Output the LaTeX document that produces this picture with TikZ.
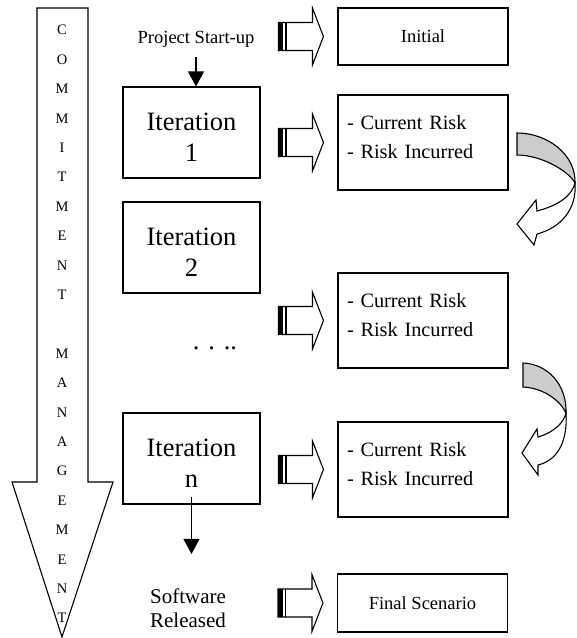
\documentclass[tikz,border=0pt]{standalone}
\usepackage{fontspec}
\setmainfont{Liberation Serif}
\usetikzlibrary{arrows.meta}

\definecolor{bandgray}{gray}{0.8}

\tikzset{
  iterbox/.style={draw, text width=125pt, inner xsep=6pt, inner ysep=0pt, text height=43pt, text depth=48pt,
    align=center, font=\fontsize{26.5}{31}\selectfont},
  riskbox/.style={draw, text width=152pt, inner xsep=9pt, inner ysep=0pt, text height=34pt,
    text depth=61pt, align=left, font=\fontsize{20.3}{29}\selectfont},
  endbox/.style={draw, minimum width=170pt, font=\fontsize{18.5}{22}\selectfont},
  flow/.style={-{Triangle[length=15pt,width=16pt]}},
}

% striped block arrow pointing at the west side of a node
\newcommand{\stripedarrow}[1]{%
  \begin{scope}[shift={(#1.west)}]
    \fill (-59,-14) rectangle (-54,14);
    \draw (-51.5,-14) -- (-51.5,14);
    \draw (-59,-14) -- (-25,-14) -- (-25,-28.5) -- (-14,0) -- (-25,28.5) -- (-25,14) -- (-59,14) -- cycle;
  \end{scope}}

\begin{document}
\begin{tikzpicture}[x=1pt, y=-1pt, line width=1.1pt]
    \useasboundingbox (0,0) rectangle (577,638);

    % commitment management
    \draw (37,8) -- (88,8) -- (88,482) -- (113,482) -- (62,637) -- (12,482) -- (37,482) -- cycle;
    \node[align=center, inner sep=0pt, font=\fontsize{14.5}{29.4}\selectfont] (commit) at (62,324)
        {C\\O\\M\\M\\I\\T\\M\\E\\N\\T\\[29.4pt]M\\A\\N\\A\\G\\E\\M\\E\\N\\T};

    % iterations
    \node[anchor=base, inner sep=0pt, font=\fontsize{18.5}{22}\selectfont] (start) at (196,43) {Project Start-up};
    \node[iterbox] (it1) at (191.5,132.5) {Iteration\\1};
    \node[iterbox] (it2) at (191.5,247.5) {Iteration\\2};
    \node[anchor=base, inner sep=0pt, font=\fontsize{26.5}{31}\selectfont] (dots) at (215,349) {. . ..};
    \node[iterbox] (itn) at (191.5,458.5) {Iteration\\n};
    \node[align=center, inner sep=0pt, font=\fontsize{21}{24}\selectfont] (released) at (188,608) {Software\\Released};

    \draw[flow, shorten <=10pt] (start.south) -- (start.south |- it1.north);
    \draw[flow, shorten >=34pt] ([yshift=8pt]itn.south) -- (itn.south |- released.north);

    % risk scenarios
    \node[endbox, minimum height=57pt] (init) at (423,36.5) {Initial};
    \node[riskbox] (risk1) at (423,142.5) {- Current Risk\\- Risk Incurred};
    \node[riskbox] (risk2) at (423,320.5) {- Current Risk\\- Risk Incurred};
    \node[riskbox] (risk3) at (423,469.5) {- Current Risk\\- Risk Incurred};
    \node[endbox, minimum height=58pt] (final) at (422.5,603) {Final Scenario};

    \stripedarrow{init}
    \stripedarrow{risk1}
    \stripedarrow{risk2}
    \stripedarrow{risk3}
    \stripedarrow{final}

    % curved arrows
    \draw[fill=bandgray] (517,133) .. controls (548,133) and (576,155) .. (575,183)
        .. controls (568,170) and (540,155) .. (517,155) -- cycle;
    \draw[fill=white] (575,183) .. controls (572,195) and (560,205) .. (537,211) -- (536,200) -- (517,224)
        -- (534,245) -- (537,234) .. controls (560,228) and (577,210) .. (575,183) -- cycle;

    \draw[fill=bandgray] (523,363) .. controls (548,364) and (567,385) .. (566,413)
        .. controls (560,400) and (543,388) .. (523,387) -- cycle;
    \draw[fill=white] (566,413) .. controls (564,422) and (555,432) .. (538,437) -- (537,429) -- (522,453)
        -- (538,475) -- (538,465) .. controls (555,461) and (568,445) .. (566,413) -- cycle;
\end{tikzpicture}
\end{document}
